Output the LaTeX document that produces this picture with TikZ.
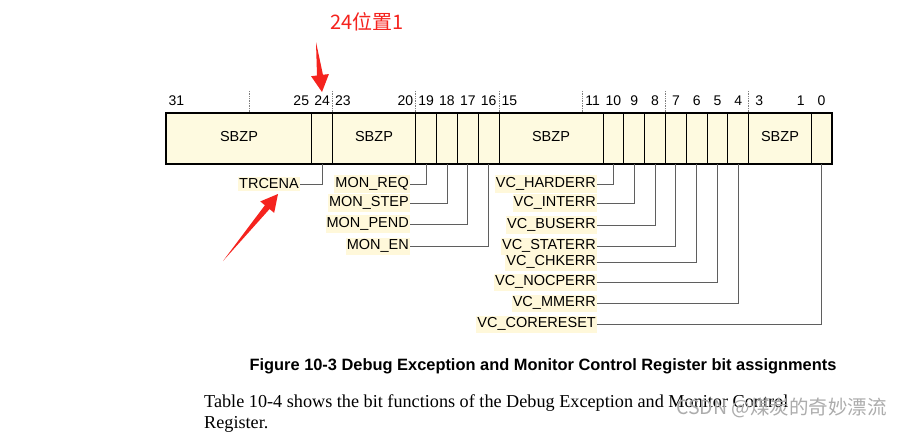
\documentclass[tikz,border=0pt]{standalone}
\usepackage{fontspec}
\setmainfont{Liberation Serif}
\setsansfont{Liberation Sans}
\newfontfamily\cjk{Noto Sans CJK SC}
\usetikzlibrary{calc}

\definecolor{regfill}{RGB}{254,250,224}
\definecolor{labfill}{RGB}{255,248,218}
\definecolor{wirecol}{RGB}{95,95,95}
\definecolor{markred}{RGB}{245,35,30}

\tikzset{
  bitnum/.style={font=\sffamily\fontsize{14}{14}\selectfont, inner sep=0pt},
  fieldname/.style={font=\sffamily\fontsize{14.5}{15}\selectfont},
  flag/.style={font=\sffamily\fontsize{14.5}{15}\selectfont, fill=labfill,
    inner xsep=1pt, inner ysep=2pt, anchor=east},
  wire/.style={draw=wirecol, line width=0.9pt},
}

% tapered red arrow: tail, tip
\newcommand{\redarrow}[2]{
  \coordinate (neck) at ($(#2)!17pt!(#1)$);
  \fill[markred] (#1) -- ($(neck)!3pt!90:(#1)$) -- ($(neck)!9pt!90:(#1)$) -- (#2)
    -- ($(neck)!9pt!-90:(#1)$) -- ($(neck)!3pt!-90:(#1)$) -- cycle;
}

\begin{document}
\begin{tikzpicture}[x=1pt,y=-1pt]
\fill[white] (0,0) rectangle (902,431);
\useasboundingbox (0,0) rectangle (902,431);

% register
\draw[fill=regfill, line width=1.1pt] (166,113) rectangle (832,164);
\foreach \b in {25,24,20,19,18,17,16,11,10,9,8,7,6,5,4,1}
  \draw[line width=1pt] ({166+(32-\b)*20.8125},113) -- ++(0,51);
\foreach \b in {28,24,20,16,12,8,4}
  \draw[densely dotted, gray, line width=0.7pt] ({166+(32-\b)*20.8125},91) -- ++(0,22);

\foreach \b in {31,25,24,23,20,19,18,17,16,15,11,10,9,8,7,6,5,4,3,1,0}
  \node[bitnum] (n\b) at ({166+(31.5-\b)*20.8125},101) {\b};

\node[fieldname] (sbzpA) at (239,137) {SBZP};
\node[fieldname] (sbzpB) at (374,137) {SBZP};
\node[fieldname] (sbzpC) at (551,137) {SBZP};
\node[fieldname] (sbzpD) at (780,137) {SBZP};

% bit names
\foreach \b/\name/\y/\x in {24/TRCENA/184/300, 19/MON\_REQ/184/410,
    18/MON\_STEP/203/410, 17/MON\_PEND/224/410, 16/MON\_EN/246/410,
    10/VC\_HARDERR/184/597, 9/VC\_INTERR/203/597, 8/VC\_BUSERR/225/597,
    7/VC\_STATERR/246/597, 6/VC\_CHKERR/262/597, 5/VC\_NOCPERR/282/597,
    4/VC\_MMERR/303/597, 0/VC\_CORERESET/324/597}
{
  \node[flag] (f\b) at (\x,\y) {\name};
  \coordinate (c\b) at ({166+(31.5-\b)*20.8125},164);
  \draw[wire] (c\b) |- (f\b.east);
}

% red marks
\node[font=\cjk\fontsize{20}{20}\selectfont, text=markred] (mark) at (367,22) {24位置1};
\coordinate (tailA) at (316,42);
\coordinate (tipA) at (322,92);
\coordinate (tailB) at (223,261);
\coordinate (tipB) at (278,194);
\redarrow{tailA}{tipA}
\redarrow{tailB}{tipB}

% caption and text
\node[font=\sffamily\bfseries\fontsize{16.4}{16}\selectfont] (caption) at (543,366)
  {Figure 10-3 Debug Exception and Monitor Control Register bit assignments};
\node[font=\fontsize{18.2}{18}\selectfont, anchor=base west, inner sep=0pt] (line1) at (204,407)
  {Table 10-4 shows the bit functions of the Debug Exception and Monitor Control};
\node[font=\fontsize{18.2}{18}\selectfont, anchor=base west, inner sep=0pt] (line2) at (204,428)
  {Register.};
\node[font=\cjk\fontsize{19.5}{19}\selectfont, text=gray!65, anchor=west, inner sep=0pt] (wmark) at (676,408)
  {CSDN @煤炭的奇妙漂流};
\end{tikzpicture}
\end{document}
